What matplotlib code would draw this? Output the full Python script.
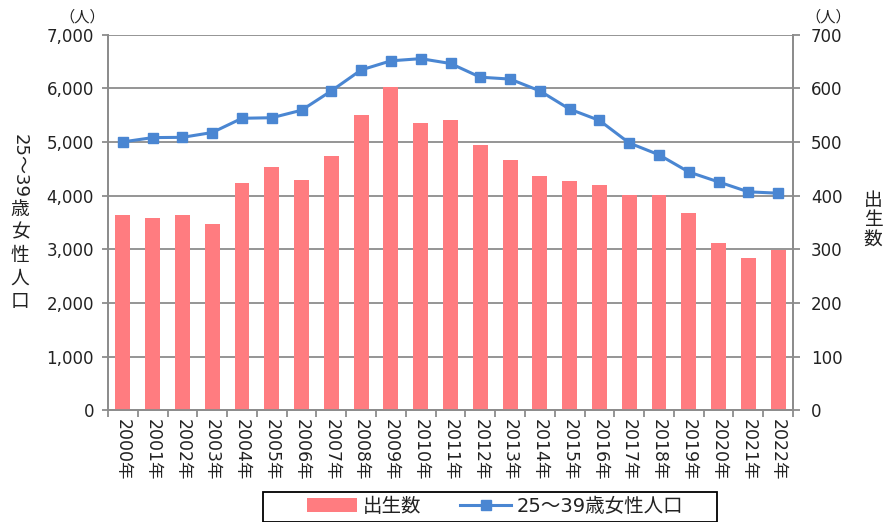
import matplotlib
matplotlib.use("Agg")
import matplotlib.pyplot as plt
from matplotlib.patches import Rectangle
import numpy as np

plt.rcParams['font.family'] = ['DejaVu Sans', 'Noto Sans CJK JP']

years = ["2000年", "2001年", "2002年", "2003年", "2004年", "2005年", "2006年", "2007年",
         "2008年", "2009年", "2010年", "2011年", "2012年", "2013年", "2014年", "2015年",
         "2016年", "2017年", "2018年", "2019年", "2020年", "2021年", "2022年"]
births = [364, 358, 364, 348, 423, 453, 429, 474, 551, 602, 536, 541,
          494, 466, 436, 428, 419, 401, 401, 368, 311, 283, 299]
women = [5000, 5080, 5085, 5175, 5440, 5450, 5590, 5950, 6340, 6510, 6550, 6460,
         6205, 6170, 5950, 5610, 5400, 4980, 4760, 4440, 4255, 4070, 4045]
left_ticks = [0, 1000, 2000, 3000, 4000, 5000, 6000, 7000]
right_ticks = [0, 100, 200, 300, 400, 500, 600, 700]

bar_label = "出生数"
line_label = "25～39歳女性人口"
unit = "（人）"

bar_color = "#FF7C80"
line_color = "#4A86D2"
grid_color = "#8C8C8C"
text_color = "#222222"

fig = plt.figure(figsize=(8.89, 5.22), dpi=100)
ax2 = fig.add_axes([108/889, 1-410.4/522, (793-108)/889, (410.4-34.5)/522])
ax = ax2.twinx()
ax.yaxis.tick_left()
ax.yaxis.set_label_position("left")
ax2.yaxis.tick_right()
ax.set_zorder(ax2.get_zorder() + 1)
ax.patch.set_visible(False)

x = np.arange(len(years))
bars = ax2.bar(x, births, width=0.5, color=bar_color, zorder=3, label=bar_label)
ax2.set_ylim(0, 700)
ax2.set_yticks(right_ticks)
ax2.set_yticklabels([f"{v:,}" for v in right_ticks])
ax2.grid(axis='y', color=grid_color, linewidth=1.3, zorder=0)
ax2.set_axisbelow(True)

line, = ax.plot(x, women, color=line_color, linewidth=2.2, marker='s', markersize=7.5,
                label=line_label, zorder=5)
ax.set_ylim(0, 7000)
ax.set_yticks(left_ticks)
ax.set_yticklabels([f"{v:,}" for v in left_ticks])

ax.set_xlim(-0.5, len(years) - 0.5)
ax2.set_xlim(-0.5, len(years) - 0.5)
ax2.set_xticks(x)
ax2.set_xticklabels(years, rotation=-90, fontsize=12.5, color=text_color)
ax2.tick_params(axis='x', length=0, pad=6)
ax2.set_xticks(np.arange(-0.5, len(years), 1), minor=True)
ax2.tick_params(axis='x', which='minor', length=5, width=1.3, color=grid_color, direction='out')
ax.tick_params(axis='x', which='both', length=0, labelbottom=False)

ax.tick_params(axis='y', length=4, width=1.3, color=grid_color, labelsize=12,
               labelcolor=text_color, pad=6)
ax2.tick_params(axis='y', length=5, width=1.3, color=grid_color, labelsize=12,
                labelcolor=text_color, pad=8)

for a in (ax, ax2):
    a.spines['top'].set_visible(False)
    for s in ('left', 'right', 'bottom'):
        a.spines[s].set_color(grid_color)
        a.spines[s].set_linewidth(1.3)

# units
fig.text(82/889, 1-17/522, unit, ha='center', va='center', fontsize=11, color=text_color)
fig.text(828/889, 1-17/522, unit, ha='center', va='center', fontsize=11, color=text_color)

# left vertical label: "25～39" rotated, CJK chars stacked upright
fig.text(20/889, 1-166/522, line_label[:5], rotation=-90, ha='center', va='center',
         fontsize=13, color=text_color)
for i, ch in enumerate(line_label[5:]):
    fig.text(20/889, 1-(209 + i*23)/522, ch, ha='center', va='center', fontsize=13.5,
             color=text_color)
# right vertical label stacked
for i, ch in enumerate(bar_label):
    fig.text(873/889, 1-(201 + i*19)/522, ch, ha='center', va='center', fontsize=13.5,
             color=text_color)

leg = fig.legend(handles=[bars, line], labels=[bar_label, line_label],
                 loc='center', bbox_to_anchor=(495/889, 1-506/522), ncol=2,
                 fontsize=14, frameon=False,
                 handlelength=2.6, handletextpad=0.3, columnspacing=2.0,
                 borderpad=0.0, borderaxespad=0)
for t in leg.get_texts():
    t.set_color(text_color)
fig.patches.append(Rectangle((263/889, 0), (717-263)/889, 1-492/522,
                             transform=fig.transFigure, fill=False,
                             edgecolor='black', linewidth=1.3))

fig.savefig("out.png", dpi=100)
